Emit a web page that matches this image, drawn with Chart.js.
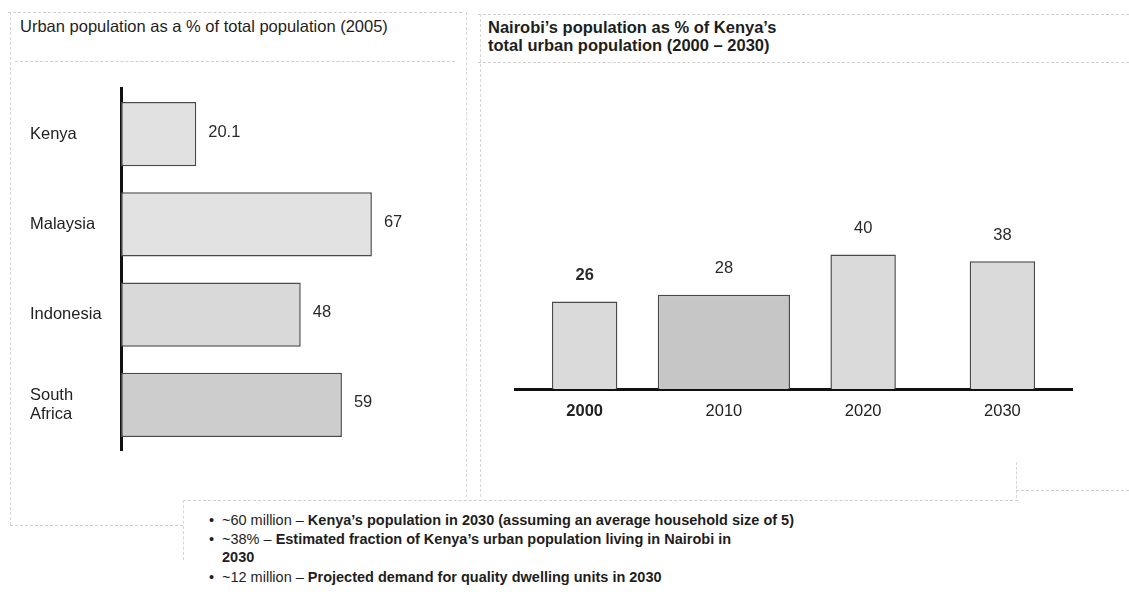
<!DOCTYPE html>
<html><head><meta charset="utf-8">
<script src="https://cdn.jsdelivr.net/npm/chart.js@4"></script>
<style>
html,body{margin:0;padding:0;background:#fff;width:1129px;height:596px;overflow:hidden;font-family:"Liberation Sans",Arial,sans-serif;color:#1e1e1e}
.abs{position:absolute}
.dh{position:absolute;height:0;border-top:1px dashed #cfcfcf}
.dv{position:absolute;width:0;border-left:1px dashed #d6d6d6}
.li{position:relative;padding-left:17px}
.li .bul{position:absolute;left:4px;top:0}
</style></head><body>
<div class="dh" style="left:8px;top:12px;width:454px"></div>
<div class="dh" style="left:15px;top:61px;width:440px"></div>
<div class="dv" style="left:10px;top:12px;height:513px"></div>
<div class="dv" style="left:466px;top:12px;height:485px"></div>
<div class="dh" style="left:10px;top:525px;width:173px"></div>
<div class="dh" style="left:478px;top:14px;width:651px"></div>
<div class="dh" style="left:478px;top:62px;width:651px"></div>
<div class="dv" style="left:480px;top:14px;height:483px"></div>
<div class="dh" style="left:1016px;top:490px;width:113px"></div>
<div class="dv" style="left:1016px;top:462px;height:36px"></div>
<div class="dh" style="left:183px;top:500px;width:835px"></div>
<div class="dv" style="left:183px;top:500px;height:60px"></div>

<div class="abs" style="left:20px;top:17px;font-size:16.5px;line-height:19px">Urban population as a % of total population (2005)</div>
<div class="abs" style="left:488px;top:18px;font-size:16.5px;line-height:18px;font-weight:bold">Nairobi’s population as % of Kenya’s<br>total urban population (2000 – 2030)</div>

<canvas id="left" class="abs" style="left:20px;top:70px" width="445" height="390"></canvas>
<canvas id="right" class="abs" style="left:505px;top:70px" width="577" height="380"></canvas>

<div class="abs" style="left:205px;top:511px;width:820px;font-size:14.5px;line-height:18.7px">
<div class="li"><span class="bul">•</span>~60 million – <b>Kenya’s population in 2030 (assuming an average household size of 5)</b></div>
<div class="li"><span class="bul">•</span>~38% – <b>Estimated fraction of Kenya’s urban population living in Nairobi in<br>2030</b></div>
<div class="li" style="margin-top:1px"><span class="bul">•</span>~12 million – <b>Projected demand for quality dwelling units in 2030</b></div>
</div>

<script>
const countries = ['Kenya', 'Malaysia', 'Indonesia', 'South Africa'];
const urbanShare = [20.1, 67, 48, 59];
const years = ['2000', '2010', '2020', '2030'];
const nairobiShare = [26, 28, 40, 38];

const FONT = '"Liberation Sans", Arial, sans-serif';
const FS = 16.5;
Chart.defaults.font.family = FONT;
Chart.defaults.color = '#222';

const valueLabels = {
  id: 'valueLabels',
  afterDatasetsDraw(chart) {
    const ctx = chart.ctx;
    const horiz = chart.options.indexAxis === 'y';
    chart.data.datasets.forEach((ds, di) => {
      const meta = chart.getDatasetMeta(di);
      meta.data.forEach((el, i) => {
        const v = ds.data[i];
        if (v === null || v === undefined) return;
        ctx.save();
        ctx.fillStyle = '#2a2a2a';
        ctx.textBaseline = 'middle';
        if (horiz) {
          ctx.font = FS + 'px ' + FONT;
          ctx.textAlign = 'left';
          ctx.fillText(String(v), el.x + 12, el.y - 2);
        } else {
          ctx.font = (i === 0 ? 'bold ' : '') + FS + 'px ' + FONT;
          ctx.textAlign = 'center';
          ctx.fillText(String(v), el.x, el.y - 26);
        }
        ctx.restore();
      });
    });
  }
};

new Chart(document.getElementById('left'), {
  type: 'bar',
  data: {
    labels: countries,
    datasets: [{
      data: urbanShare,
      backgroundColor: ['#e1e1e1', '#e2e2e2', '#d9d9d9', '#cdcdcd'],
      borderColor: '#4a4a4a',
      borderWidth: 1.5,
      borderSkipped: false,
      barPercentage: 0.71,
      categoryPercentage: 1
    }]
  },
  options: {
    indexAxis: 'y',
    responsive: false,
    animation: false,
    events: [],
    layout: { padding: { left: 10, top: 13, bottom: 10, right: 7 } },
    plugins: { legend: { display: false }, tooltip: { enabled: false } },
    scales: {
      x: { display: false, min: 0, max: 90 },
      y: {
        grid: { display: false, drawTicks: false },
        border: { display: true, color: '#111', width: 3 },
        ticks: {
          crossAlign: 'far',
          padding: 0,
          color: '#222',
          font: { size: FS, lineHeight: 1.15 },
          callback: (v, i) => countries[i].includes(' ') ? countries[i].split(' ') : countries[i]
        },
        afterFit: s => { s.width = 91; }
      }
    }
  },
  plugins: [valueLabels]
});

const WIDE = 1; // index of the bar drawn wider in the original
new Chart(document.getElementById('right'), {
  type: 'bar',
  data: {
    labels: years,
    datasets: [{
      data: nairobiShare.map((v, i) => i === WIDE ? null : v),
      backgroundColor: '#dadada',
      borderColor: '#4a4a4a',
      borderWidth: 1.5,
      borderSkipped: 'bottom',
      barPercentage: 0.47,
      categoryPercentage: 1,
      grouped: false
    }, {
      data: nairobiShare.map((v, i) => i === WIDE ? v : null),
      backgroundColor: '#c6c6c6',
      borderColor: '#4a4a4a',
      borderWidth: 1.5,
      borderSkipped: 'bottom',
      barPercentage: 0.95,
      categoryPercentage: 1,
      grouped: false
    }]
  },
  options: {
    responsive: false,
    animation: false,
    events: [],
    layout: { padding: { left: 10, right: 10, top: 50, bottom: 1 } },
    plugins: { legend: { display: false }, tooltip: { enabled: false } },
    scales: {
      y: { display: false, min: 0, max: 80 },
      x: {
        grid: { display: false, drawTicks: false },
        border: { display: true, color: '#111', width: 3 },
        ticks: {
          padding: 13,
          color: '#222',
          font: c => ({ size: FS, weight: c.index === 0 ? 'bold' : 'normal' })
        },
        afterFit: s => { s.height = 60; }
      }
    }
  },
  plugins: [valueLabels]
});
</script>
</body></html>
